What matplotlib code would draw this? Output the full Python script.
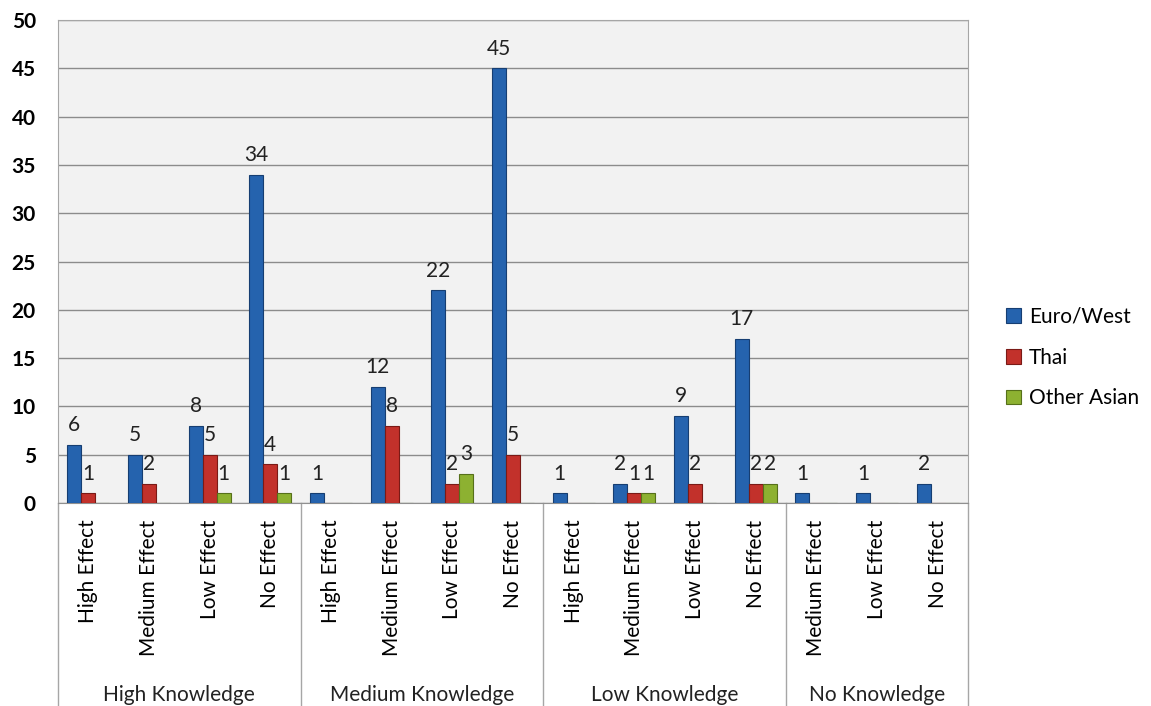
import matplotlib.pyplot as plt
import numpy as np

plt.rcParams['font.family'] = ['Lato', 'DejaVu Sans']

# sub-categories under each knowledge level
effects = ["High Effect", "Medium Effect", "Low Effect", "No Effect",
           "High Effect", "Medium Effect", "Low Effect", "No Effect",
           "High Effect", "Medium Effect", "Low Effect", "No Effect",
           "Medium Effect", "Low Effect", "No Effect"]
groups = ["High Knowledge", "Medium Knowledge", "Low Knowledge", "No Knowledge"]
group_sizes = [4, 4, 4, 3]

euro_west = [6, 5, 8, 34, 1, 12, 22, 45, 1, 2, 9, 17, 1, 1, 2]
thai = [1, 2, 5, 4, 0, 8, 2, 5, 0, 1, 2, 2, 0, 0, 0]
other_asian = [0, 0, 1, 1, 0, 0, 3, 0, 0, 1, 0, 2, 0, 0, 0]

series = [("Euro/West", euro_west, "#2563AE", "#163E72"),
          ("Thai", thai, "#C2312B", "#7A1A16"),
          ("Other Asian", other_asian, "#8DB131", "#56701A")]

fig = plt.figure(figsize=(11.51, 7.06), dpi=100)
ax = fig.add_axes([0.0504, 0.2875, 0.7906, 0.6842])
ax.set_facecolor("#F2F2F2")

x = np.arange(len(effects))
w = 0.23
for i, (name, vals, col, edge) in enumerate(series):
    pos = x + (i - 1) * w
    bars = ax.bar(pos, vals, w, color=col, edgecolor=edge, linewidth=0.8,
                  label=name, zorder=3)
    for b, v in zip(bars, vals):
        if v:
            ax.annotate(str(v), (b.get_x() + b.get_width() / 2, v),
                        xytext=(0, 7), textcoords="offset points",
                        ha="center", va="bottom", fontsize=15, color="#222222")

ax.set_xlim(-0.5, len(effects) - 0.5)
ax.set_ylim(0, 50)
ax.set_yticks(range(0, 51, 5))
ax.yaxis.grid(True, color="#8C8C8C", linewidth=1.0, zorder=0)
ax.tick_params(axis="y", length=0, pad=16, labelsize=15)
for lab in ax.get_yticklabels():
    lab.set_fontweight("bold")

ax.set_xticks(x)
ax.set_xticklabels(effects, rotation=90, va="top", ha="center", fontsize=15)
ax.tick_params(axis="x", length=0, pad=12)

for s in ax.spines.values():
    s.set_color("#A6A6A6")
ax.spines["bottom"].set_color("#909090")

# group separators and labels below the axis
xt = ax.get_xaxis_transform()
bounds = np.concatenate([[0], np.cumsum(group_sizes)]) - 0.5
for b in bounds:
    ax.plot([b, b], [0, -0.45], color="#A6A6A6", linewidth=1.0,
            transform=xt, clip_on=False)
for g, lo, hi in zip(groups, bounds[:-1], bounds[1:]):
    ax.text((lo + hi) / 2, -0.398, g, transform=xt, ha="center", va="center",
            fontsize=15, color="#222222")

handles, labels = ax.get_legend_handles_labels()
fig.legend(handles, labels, loc="center left", bbox_to_anchor=(0.874, 0.4936),
           frameon=False, fontsize=15, handlelength=0.7, handleheight=0.7,
           labelspacing=1.0, handletextpad=0.4, borderpad=0, borderaxespad=0)

fig.savefig("out.png", dpi=100)
